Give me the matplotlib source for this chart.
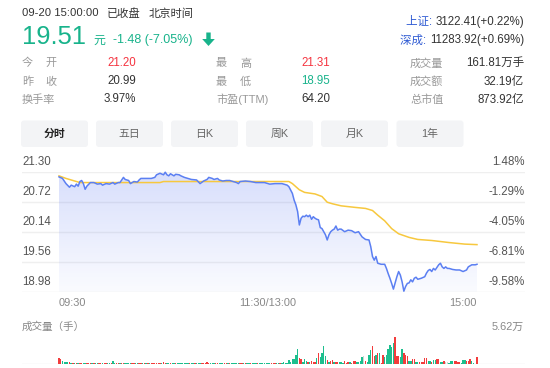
import matplotlib
matplotlib.use("Agg")
import matplotlib.pyplot as plt
import matplotlib.transforms as mtrans
from matplotlib.patches import FancyBboxPatch, Polygon
import numpy as np

plt.rcParams['font.family'] = ['Liberation Sans', 'Noto Sans CJK SC', 'DejaVu Sans']

# ---------------- data ----------------
prev_close = 20.99
price_ticks = [21.30, 20.72, 20.14, 19.56, 18.98]
x_tick_labels = ["09:30", "11:30/13:00", "15:00"]
x_tick_minutes = [0, 120, 240]
vol_top_label = "5.62万"
vol_max = 56200

price_min = [0, 2, 4, 6, 7, 9, 10, 11, 12, 13, 14, 15, 16, 18, 20, 22, 24, 25, 27, 29,
             31, 32, 34, 35, 37, 38, 39, 40, 41, 43, 45, 46, 47, 49, 51, 53, 55, 56, 58, 60,
             61, 62, 63, 64, 66, 67, 69, 70, 72, 74, 76, 79, 81, 83, 85, 86, 88, 89, 91, 92,
             94, 96, 98, 100, 102, 103, 104, 107, 110, 113, 115, 118, 121, 124, 128, 131, 132, 134, 135, 136,
             137, 138, 139, 140, 141, 142, 143, 144, 145, 146, 147, 148, 149, 150, 151, 152, 153, 154, 155, 156,
             157, 158, 159, 160, 161, 162, 164, 166, 168, 170, 172, 174, 176, 178, 179, 180, 181, 182, 183, 185,
             187, 188, 189, 190, 191, 192, 193, 194, 195, 196, 197, 198, 199, 200, 201, 202, 203, 204, 205, 206,
             208, 210, 211, 212, 213, 214, 215, 216, 218, 219, 220, 221, 222, 223, 224, 226, 228, 230, 232, 234,
             235, 237, 239, 240]
price_val = [21.20, 21.17, 21.07, 21.00, 21.04, 21.01, 21.06, 21.02, 21.11, 21.13, 21.07, 20.96, 21.02, 21.09, 21.09, 21.06, 21.07, 21.04, 21.07, 21.06,
             21.09, 21.06, 21.09, 21.09, 21.19, 21.15, 21.14, 21.13, 21.07, 21.11, 21.10, 21.14, 21.17, 21.17, 21.17, 21.17, 21.19, 21.24, 21.27, 21.24,
             21.29, 21.24, 21.22, 21.26, 21.22, 21.25, 21.24, 21.22, 21.19, 21.17, 21.15, 21.14, 21.07, 21.12, 21.15, 21.19, 21.17, 21.15, 21.17, 21.14,
             21.12, 21.13, 21.13, 21.11, 21.09, 21.07, 21.11, 21.12, 21.11, 21.09, 21.09, 21.09, 21.06, 21.07, 21.07, 21.04, 21.01, 20.88, 20.75, 20.66,
             20.53, 20.27, 20.40, 20.44, 20.43, 20.46, 20.43, 20.46, 20.38, 20.43, 20.40, 20.38, 20.37, 20.22, 20.20, 20.14, 20.08, 19.98, 20.08, 20.14,
             20.17, 20.19, 20.25, 20.17, 20.19, 20.19, 20.14, 20.17, 20.16, 20.12, 20.14, 20.04, 19.99, 19.98, 19.85, 19.66, 19.59, 19.66, 19.53, 19.51,
             19.51, 19.43, 19.33, 19.24, 19.14, 19.03, 19.15, 19.27, 19.37, 19.30, 19.17, 18.99, 19.08, 19.14, 19.15, 19.21, 19.17, 19.24, 19.26, 19.22,
             19.24, 19.27, 19.34, 19.39, 19.41, 19.37, 19.43, 19.40, 19.50, 19.53, 19.46, 19.43, 19.46, 19.43, 19.43, 19.41, 19.40, 19.40, 19.37, 19.40,
             19.46, 19.50, 19.50, 19.51]

avg_min = [0, 4, 8, 12, 18, 24, 43, 58, 60, 81, 100, 124, 132, 134, 136, 138, 141, 147, 151, 154,
           157, 162, 170, 176, 180, 183, 187, 191, 195, 201, 206, 214, 224, 233, 240]
avg_val = [21.22, 21.17, 21.13, 21.09, 21.09, 21.09, 21.09, 21.09, 21.11, 21.11, 21.11, 21.11, 21.11, 21.07, 21.01, 20.95, 20.90, 20.87, 20.82, 20.71,
           20.68, 20.64, 20.61, 20.59, 20.55, 20.46, 20.35, 20.20, 20.10, 20.03, 19.99, 19.97, 19.93, 19.90, 19.89]

volume = [11700, 10300, 6800, 3500, 3500, 3500, 3500, 3000, 2000, 1800,
          2200, 1600, 2400, 1800, 2000, 2600, 2200, 1800, 1600, 2000,
          1800, 1500, 1700, 1900, 2100, 1800, 1600, 2000, 1800, 1600,
          2200, 6800, 2400, 1800, 2000, 1700, 2300, 3000, 2400, 1800,
          1600, 2200, 1500, 1900, 1700, 1500, 2000, 2200, 1600, 1800,
          1500, 1700, 1600, 1900, 1500, 2100, 2600, 2000, 2400, 1800,
          4700, 2600, 2200, 2000, 1800, 1600, 1700, 1900, 1500, 1600,
          1800, 1500, 1600, 1400, 1700, 1500, 1400, 1600, 1300, 1500,
          1800, 2200, 1600, 1800, 1500, 4700, 2000, 1600, 1400, 1500,
          1300, 1600, 1400, 1500, 1300, 1400, 1200, 1500, 1300, 1400,
          1500, 1300, 1600, 1400, 1700, 1300, 1200, 1400, 1300, 1500,
          1400, 1300, 1200, 1500, 1300, 1400, 1200, 1500, 1300, 1600,
          1800, 1500, 1400, 1300, 1500, 1400, 1600, 1300, 1500, 3500,
          1800, 2400, 8200, 4700, 9700, 9700, 18500, 30300, 11700, 9700,
          4700, 9700, 6800, 4700, 4700, 6200, 4700, 4700, 11700, 23300,
          15000, 23300, 37100, 16000, 8200, 4700, 6800, 8200, 4700, 4700,
          4700, 3500, 3500, 2000, 6800, 2500, 3500, 3500, 2000, 6800,
          6800, 4700, 4700, 6800, 15000, 16500, 6800, 4700, 18500, 28800,
          37100, 16500, 18500, 22000, 22000, 1500, 18500, 13800, 18500, 30300,
          39100, 35700, 42600, 56200, 16500, 16500, 15000, 30300, 23300, 18500,
          16500, 6800, 6800, 9700, 9700, 4700, 4700, 4700, 4700, 4700,
          11700, 11700, 6800, 6800, 4700, 8200, 8200, 9700, 9700, 4700,
          4700, 6800, 4700, 4700, 2000, 6200, 6200, 6200, 6200, 4700,
          4700, 2000, 8200, 8200, 6800, 6800, 9700, 6800, 1500, 1000,
          15000]
# R = up minute, G = down minute, N = unchanged (groups of ten minutes)
vol_dir = "".join([
    "RRGGGGRGRG", "RGRRGGRRRG", "RGGRRGRRGG", "RGGRRGRRGG", "GGRRGGRRGR",
    "GRGRRRRRRG", "RRGGRGGRGG", "GGGGGRGGRG", "GGRRRRRGGG", "RRGGGRRGRG",
    "GGGGRRGRGG", "RGGGRGGGGG", "GGRRRGGRGG", "GGGGGGGGRR", "GGGRGRRRGR",
    "GGGGRGRRGR", "RGGGRRRGRR", "RGGGGNRGGG", "RRGRGRRGGG", "GGGRRRGGRR",
    "RGGRRGGRRR", "RRGGRGGRRG", "GRNNGGGRRR", "RGGGRRRGGG", "R"])

# ---------------- figure ----------------
W, H = 550, 368
fig = plt.figure(figsize=(W / 100, H / 100), dpi=100)
fig.patch.set_facecolor("white")
renderer = fig.canvas.get_renderer()

def fx(x):
    return x / W

def fy(y):
    return 1 - y / H

def T(x, y, s, size=8.3, color="#333333", ha="left", va="center", **kw):
    return fig.text(fx(x), fy(y), s, fontsize=size, color=color, ha=ha, va=va, **kw)

GREEN = "#18b38b"
RED = "#f5333f"
GREY = "#999999"
DARK = "#333333"
BLUE_T = "#2f5bd3"

# header
T(22, 13.5, "09-20 15:00:00", 8.1, DARK)
T(107, 13.5, "已收盘", 8.1, DARK)
T(149, 13.5, "北京时间", 8.1, DARK)
T(21.5, 37.5, "19.51", 18.4, GREEN)
T(93, 40.5, "元", 8.6, GREEN)
T(113, 40.5, "-1.48 (-7.05%)", 9.0, GREEN)
arrow_pts = [[206.3, 32.5], [210.7, 32.5], [210.7, 39], [214.8, 39], [208.5, 46], [202.2, 39], [206.3, 39]]
arrow = Polygon([[p[0], H - p[1]] for p in arrow_pts], closed=True,
                transform=mtrans.IdentityTransform(), facecolor=GREEN, edgecolor="none")
fig.add_artist(arrow)

for yy, lab, val in [(21.5, "上证: ", "3122.41(+0.22%)"), (40.5, "深成: ", "11283.92(+0.69%)")]:
    t = T(524, yy, val, 8.3, DARK, ha="right")
    bb = t.get_window_extent(renderer)
    fig.text(bb.x0 / W, fy(yy), lab, fontsize=8.3, color=BLUE_T, ha="right", va="center")

# stats rows
rows_y = [63.3, 81.5, 99.5]
T(22, rows_y[0], "今", 8.0, GREY); T(45, rows_y[0], "开", 8.0, GREY)
T(22, rows_y[1], "昨", 8.0, GREY); T(45, rows_y[1], "收", 8.0, GREY)
T(22, rows_y[2], "换手率", 8.0, GREY)
T(136, rows_y[0], "21.20", 8.3, RED, ha="right")
T(136, rows_y[1], "20.99", 8.3, DARK, ha="right")
T(136, rows_y[2], "3.97%", 8.3, DARK, ha="right")
T(216, rows_y[0], "最", 8.0, GREY); T(240, rows_y[0], "高", 8.0, GREY)
T(216, rows_y[1], "最", 8.0, GREY); T(240, rows_y[1], "低", 8.0, GREY)
T(216, rows_y[2], "市盈(TTM)", 8.0, GREY)
T(330, rows_y[0], "21.31", 8.3, RED, ha="right")
T(330, rows_y[1], "18.95", 8.3, GREEN, ha="right")
T(330, rows_y[2], "64.20", 8.3, DARK, ha="right")
T(410, rows_y[0], "成交量", 8.0, GREY)
T(410, rows_y[1], "成交额", 8.0, GREY)
T(410, rows_y[2], "总市值", 8.0, GREY)
T(524, rows_y[0], "161.81万手", 8.3, DARK, ha="right")
T(524, rows_y[1], "32.19亿", 8.3, DARK, ha="right")
T(524, rows_y[2], "873.92亿", 8.3, DARK, ha="right")

# tabs
tabs = ["分时", "五日", "日K", "周K", "月K", "1年"]
tab_x0 = [21, 96, 171, 246, 321, 396.5]
for i, (lab, x0) in enumerate(zip(tabs, tab_x0)):
    box = FancyBboxPatch((x0, H - 147), 67, 26.5, boxstyle="round,pad=0,rounding_size=3",
                         transform=mtrans.IdentityTransform(), facecolor="#f3f4f6", edgecolor="none")
    fig.add_artist(box)
    T(x0 + 33.5, 134, lab, 7.8, "#222222" if i == 0 else "#666666", ha="center",
      fontweight="bold" if i == 0 else "normal")

# ---------------- price panel ----------------
s = 418 / 240.0
xlim = (-(59 - 22) / s, 240 + (525 - 477) / s)

ax = fig.add_axes([fx(22), fy(291.7), fx(525) - fx(22), fy(171.7) - fy(291.7)])
ax.set_xlim(*xlim)
ax.set_ylim(price_ticks[-1], price_ticks[0])
ax.axis("off")

for v in price_ticks:
    ax.axhline(v, color="#efefef", lw=1.0, zorder=0)

trans_l = mtrans.offset_copy(mtrans.blended_transform_factory(ax.transAxes, ax.transData), fig=fig, y=10, units="dots")
for v in price_ticks:
    ax.text(0, v, f"{v:.2f}", transform=trans_l, ha="left", va="center", fontsize=8.3, color="#555555")
    pct = (v - prev_close) / prev_close * 100
    ax.text(1, v, f"{pct:.2f}%", transform=trans_l, ha="right", va="center", fontsize=8.3, color="#555555")

# gradient fill under price line
pm = np.array(price_min, dtype=float)
pv = np.array(price_val, dtype=float)
poly = ax.fill_between(pm, pv, price_ticks[-1], facecolor="none", edgecolor="none")
grad = np.zeros((100, 2, 4))
top = np.array([0.36, 0.47, 0.95])
for k in range(100):
    grad[k, :, :3] = top
    grad[k, :, 3] = 0.24 - 0.21 * k / 99
im = ax.imshow(grad, extent=[0, 240, price_ticks[-1], max(price_val)], aspect="auto",
               origin="upper", zorder=1, interpolation="bilinear")
im.set_clip_path(poly.get_paths()[0], transform=ax.transData)

ax.plot(pm, pv, color="#5b7ff2", lw=1.1, zorder=3, clip_on=False)
ax.plot(avg_min, avg_val, color="#f7c83e", lw=1.1, zorder=2, clip_on=False)

# x labels
trans_x = mtrans.blended_transform_factory(ax.transData, fig.transFigure)
for m, lab, ha in zip(x_tick_minutes, x_tick_labels, ["left", "center", "right"]):
    ax.text(m, fy(303), lab, transform=trans_x, ha=ha, va="center", fontsize=7.9, color="#888888")

# ---------------- volume panel ----------------
T(22, 327, "成交量（手）", 7.6, "#888888")
T(524, 327, vol_top_label, 7.9, "#888888", ha="right")

axv = fig.add_axes([fx(22), fy(364), fx(525) - fx(22), fy(336.7) - fy(364)])
axv.set_xlim(*xlim)
axv.set_ylim(0, vol_max)
axv.axis("off")
axv.axhline(0, color="#efefef", lw=1.0, zorder=0)
cmap = {"R": "#f23c3c", "G": "#1cbf8e", "N": "#c9d6d0"}
colors = [cmap[c] for c in vol_dir]
axv.bar(np.arange(len(volume)), volume, width=0.8, color=colors, linewidth=0, zorder=2)

fig.savefig("out.png", dpi=100, facecolor="white")
